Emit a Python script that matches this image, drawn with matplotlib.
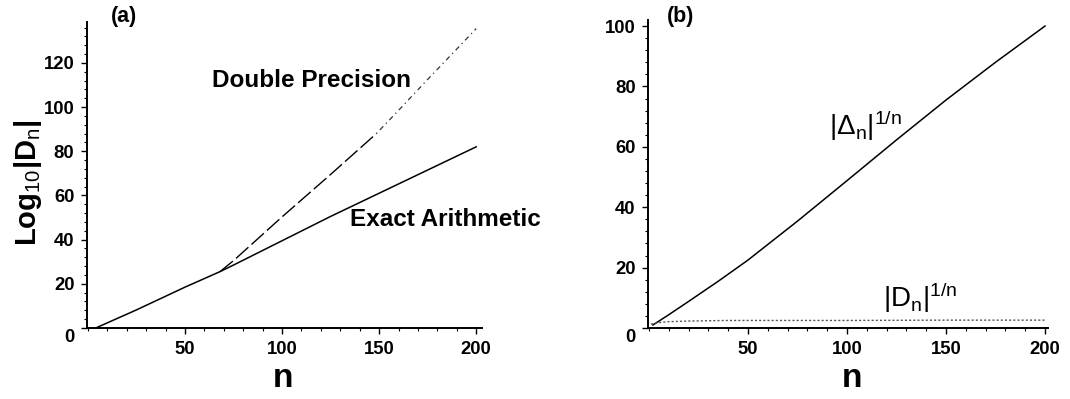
import numpy as np
import matplotlib
matplotlib.use("Agg")
import matplotlib.pyplot as plt
from matplotlib.ticker import MultipleLocator, FixedLocator
from matplotlib.transforms import ScaledTranslation

plt.rcParams['font.family'] = ['Liberation Sans', 'DejaVu Sans']
plt.rcParams['mathtext.fontset'] = 'custom'
plt.rcParams['mathtext.rm'] = 'Liberation Sans'
plt.rcParams['mathtext.it'] = 'Liberation Sans'
plt.rcParams['mathtext.bf'] = 'Liberation Sans:bold'

# ---- Data ----
# Panel (a): log10|D_n|
exact_n = [4, 25, 50, 68, 75, 100, 125, 150, 175, 200]
exact_y = [0, 8.2, 18.5, 25.5, 28.5, 39.5, 50.5, 61, 71.5, 82]
double_n1 = [68, 75, 87, 100, 125, 148.6]
double_y1 = [25.5, 30.5, 40, 50.3, 69.5, 88]
double_n2 = [148.6, 160, 175, 187, 200]
double_y2 = [88, 98.5, 112.5, 123.5, 135.5]

# Panel (b)
delta_n = [2, 10, 20, 35, 50, 62, 75, 100, 125, 150, 175, 200]
delta_y = [1, 4.4, 8.8, 15.5, 22.5, 28.7, 35.4, 48.8, 62.3, 75.5, 88, 100]
dn_n = [1, 5, 10, 20, 40, 60, 100, 150, 200]
dn_y = [1.3, 1.8, 2.1, 2.3, 2.5, 2.5, 2.5, 2.6, 2.6]

xticks = [50, 100, 150, 200]
yticks_a = [0, 20, 40, 60, 80, 100, 120]
yticks_b = [0, 20, 40, 60, 80, 100]

fig = plt.figure(figsize=(10.70, 3.99), dpi=100)
axA = fig.add_axes([87/1070, 71/399, 395/1070, 306/399])
axB = fig.add_axes([648/1070, 71/399, 400/1070, 308/399])

tickfont = dict(fontsize=13.3, fontweight='bold')

def style(ax, xlim, ylim, yticks):
    ax.set_xlim(*xlim)
    ax.set_ylim(*ylim)
    for s in ['top', 'right']:
        ax.spines[s].set_visible(False)
    for s in ['left', 'bottom']:
        ax.spines[s].set_linewidth(1.4)
    ax.xaxis.set_major_locator(FixedLocator(xticks))
    ax.yaxis.set_major_locator(FixedLocator(yticks))
    ax.xaxis.set_minor_locator(MultipleLocator(10))
    ax.yaxis.set_minor_locator(MultipleLocator(4))
    ax.tick_params(which='major', direction='out', length=4, width=1.0, pad=5)
    ax.tick_params(which='minor', direction='out', length=2.5, width=0.8)
    ax.set_xticklabels([str(t) for t in xticks], **tickfont)
    ax.set_yticklabels([str(t) for t in yticks], **tickfont)
    lab0 = ax.get_yticklabels()[0]
    lab0.set_transform(lab0.get_transform() + ScaledTranslation(0, -8/100, fig.dpi_scale_trans))

style(axA, (-0.5, 203), (0, 138.5), yticks_a)
style(axB, (-0.5, 201.5), (0, 102), yticks_b)

# Panel (a)
axA.plot(exact_n, exact_y, color='black', lw=1.1)
axA.plot(double_n1, double_y1, color='black', lw=1.0, linestyle=(0, (12, 3)))
axA.plot(double_n2, double_y2, color='#333333', lw=0.9, linestyle=(0, (1, 3, 4, 3)))

axA.text(64, 112, 'Double Precision', fontsize=17.5, fontweight='bold',
         ha='left', va='center')
axA.text(135, 49, 'Exact Arithmetic', fontsize=17.5, fontweight='bold',
         ha='left', va='center')
axA.text(18.5, 141, '(a)', fontsize=15.5, fontweight='bold', ha='center', va='center')
axA.set_ylabel(r'Log$_{10}$|D$_{\mathrm{n}}$|', fontsize=21, fontweight='bold')
axA.yaxis.set_label_coords(-0.108, 0.474)
axA.set_xlabel('n', fontsize=24, fontweight='bold')
axA.xaxis.set_label_coords(0.496, -0.115)

# Panel (b)
axB.plot(delta_n, delta_y, color='black', lw=1.1)
axB.plot(dn_n, dn_y, color='#555555', lw=1.0, linestyle=(0, (1.5, 1.5)))

axB.text(91, 67, r'$|\Delta_{\mathrm{n}}|^{\mathrm{1/n}}$', fontsize=20,
         ha='left', va='center')
axB.text(118, 10, r'$|\mathrm{D}_{\mathrm{n}}|^{\mathrm{1/n}}$', fontsize=20,
         ha='left', va='center')
axB.text(16, 103, '(b)', fontsize=15.5, fontweight='bold', ha='center', va='center')
axB.set_xlabel('n', fontsize=24, fontweight='bold')
axB.xaxis.set_label_coords(0.51, -0.115)

fig.savefig('out.png', dpi=100)
